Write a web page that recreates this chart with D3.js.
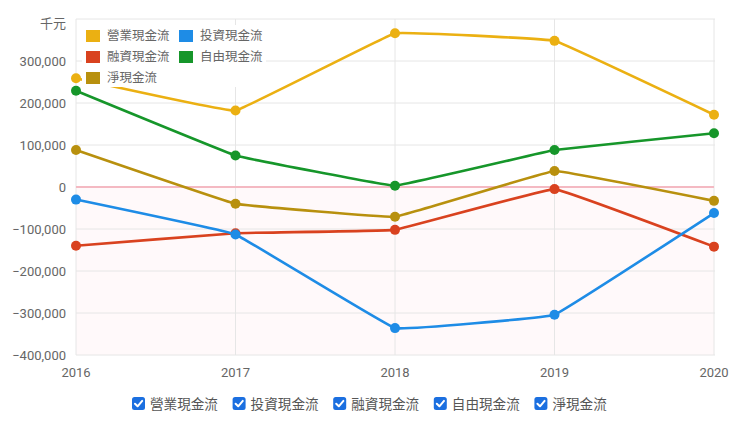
<!DOCTYPE html>
<html>
<head>
<meta charset="utf-8">
<script src="https://cdn.jsdelivr.net/npm/d3@7"></script>
<style>
  html, body { margin: 0; padding: 0; background: #fff; }
  svg { display: block; font-family: Roboto, "Noto Sans CJK TC", sans-serif; }
</style>
</head>
<body>
<svg width="740" height="422"></svg>
<script>
// data, in thousands of NT$ (千元)
const years = ['2016', '2017', '2018', '2019', '2020'];
const seriesNames = ['營業現金流', '投資現金流', '融資現金流', '自由現金流', '淨現金流'];
const seriesColors = ['#ebb012', '#1e8ce6', '#d9421f', '#16962a', '#b8900e'];
const operating = [259000, 182000, 366000, 348000, 172000];
const investing = [-30000, -113000, -336000, -304000, -62000];
const financing = [-140000, -110000, -102000, -5000, -142000];
const freeCash  = [229000, 75000, 3000, 88000, 128000];
const netCash   = [88000, -40000, -71000, 38000, -33000];
const yTicks = [-400000, -300000, -200000, -100000, 0, 100000, 200000, 300000, 400000];

(function (d3) {
    'use strict';
    const svg = d3.select('svg');
    const left = 76, right = 714, top = 19, bottom = 355;

    const x = d3.scalePoint().domain(years).range([left, right]);
    const y = d3.scaleLinear().domain([-400000, 400000]).range([bottom, top]);

    const series = [operating, investing, financing, freeCash, netCash].map((vals, i) => ({
        name: seriesNames[i],
        color: seriesColors[i],
        values: vals.map((v, j) => ({ year: years[j], value: v }))
    }));

    // light pink area under zero
    svg.append('rect')
        .attr('x', left).attr('y', y(0))
        .attr('width', right - left).attr('height', y(-400000) - y(0))
        .attr('fill', '#fff9fa');

    // horizontal grid
    svg.append('g')
      .selectAll('line').data(yTicks.filter(d => d !== 0))
      .enter().append('line')
        .attr('x1', left).attr('x2', right + 1)
        .attr('y1', d => y(d)).attr('y2', d => y(d))
        .attr('stroke', '#e6e6e6').attr('stroke-width', 1);

    // vertical grid
    svg.append('g')
      .selectAll('line').data(years)
      .enter().append('line')
        .attr('x1', d => x(d)).attr('x2', d => x(d))
        .attr('y1', top).attr('y2', bottom)
        .attr('stroke', '#e6e6e6').attr('stroke-width', 1);

    // zero line
    svg.append('line')
        .attr('x1', left).attr('x2', right)
        .attr('y1', y(0)).attr('y2', y(0))
        .attr('stroke', '#f4b9c2').attr('stroke-width', 2);

    // y axis labels
    const fmt = d3.format(',');
    svg.append('g')
      .selectAll('text').data(yTicks.filter(d => d !== 400000))
      .enter().append('text')
        .attr('x', 66).attr('y', d => y(d))
        .attr('dy', '0.35em')
        .attr('text-anchor', 'end')
        .attr('font-size', 13)
        .attr('fill', '#666')
        .text(d => fmt(d));

    svg.append('text')
        .attr('x', 66).attr('y', 23)
        .attr('dy', '0.35em')
        .attr('text-anchor', 'end')
        .attr('font-size', 13)
        .attr('fill', '#666')
        .text('千元');

    // x axis labels
    svg.append('g')
      .selectAll('text').data(years)
      .enter().append('text')
        .attr('x', d => x(d)).attr('y', 372)
        .attr('dy', '0.35em')
        .attr('text-anchor', 'middle')
        .attr('font-size', 13)
        .attr('fill', '#666')
        .text(d => d);

    // lines
    const line = d3.line()
        .x(d => x(d.year))
        .y(d => y(d.value))
        .curve(d3.curveCardinal.tension(0.85));

    const seriesG = svg.append('g')
      .selectAll('g').data(series.slice().reverse())
      .enter().append('g');

    seriesG.append('path')
        .attr('d', d => line(d.values))
        .attr('fill', 'none')
        .attr('stroke', d => d.color)
        .attr('stroke-width', 2.6);

    seriesG.selectAll('circle')
        .data(d => d.values.map(v => Object.assign({ color: d.color }, v)))
      .enter().append('circle')
        .attr('cx', d => x(d.year))
        .attr('cy', d => y(d.value))
        .attr('r', 5)
        .attr('fill', d => d.color);

    // legend (inside the plot, white box covers lines)
    const legendG = svg.append('g');
    legendG.append('rect')
        .attr('x', 82).attr('y', 25)
        .attr('width', 184).attr('height', 62)
        .attr('fill', '#fff');

    const legendItems = legendG.selectAll('g').data(series)
      .enter().append('g')
        .attr('transform', (d, i) => `translate(${86 + (i % 2) * 93}, ${36 + Math.floor(i / 2) * 21})`);
    legendItems.append('rect')
        .attr('x', 0).attr('y', -6)
        .attr('width', 14).attr('height', 12)
        .attr('fill', d => d.color);
    legendItems.append('text')
        .attr('x', 21).attr('dy', '0.35em')
        .attr('font-size', 12.5)
        .attr('fill', '#666')
        .text(d => d.name);

    // checkbox toggles along the bottom
    const boxes = svg.append('g')
      .selectAll('g').data(series)
      .enter().append('g')
        .attr('transform', (d, i) => `translate(${132 + i * 100.6}, 397)`);
    boxes.append('rect')
        .attr('width', 13).attr('height', 13)
        .attr('rx', 2.5)
        .attr('fill', '#1b6fe0');
    boxes.append('path')
        .attr('d', 'M3,6.8 L5.6,9.3 L10.2,3.9')
        .attr('fill', 'none')
        .attr('stroke', '#fff')
        .attr('stroke-width', 2)
        .attr('stroke-linecap', 'round')
        .attr('stroke-linejoin', 'round');
    boxes.append('text')
        .attr('x', 18).attr('y', 6.5)
        .attr('dy', '0.38em')
        .attr('font-size', 13.6)
        .attr('fill', '#555')
        .text(d => d.name);
}(d3));
</script>
</body>
</html>
